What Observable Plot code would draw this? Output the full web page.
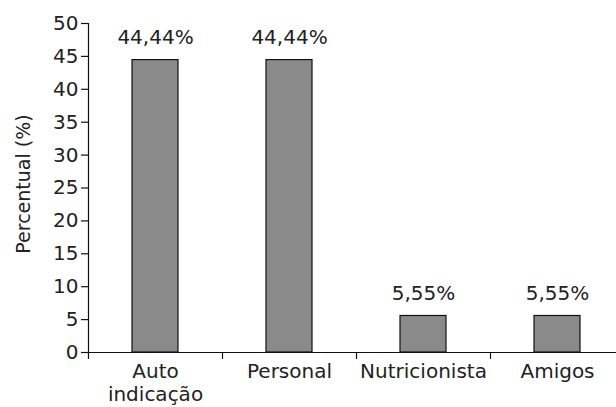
<!DOCTYPE html>
<html>
<head>
<meta charset="utf-8">
<script src="https://cdn.jsdelivr.net/npm/d3@7"></script>
<script src="https://cdn.jsdelivr.net/npm/@observablehq/plot@0.6"></script>
<style>
  html, body { margin: 0; padding: 0; background: #fff; }
  svg { display: block; }
</style>
</head>
<body>
<div id="chart"></div>
<script>
const categories = ["Auto\nindicação", "Personal", "Nutricionista", "Amigos"];
const values = [44.44, 44.44, 5.55, 5.55];
const valueLabels = ["44,44%", "44,44%", "5,55%", "5,55%"];
const yTicks = [0, 5, 10, 15, 20, 25, 30, 35, 40, 45, 50];
const yTitle = "Percentual (%)";

const data = categories.map((c, i) => ({cat: c, value: values[i], label: valueLabels[i]}));

const font = "DejaVu Sans";
const chart = Plot.plot({
  width: 616,
  height: 407,
  marginLeft: 88,
  marginRight: 0,
  marginTop: 23,
  marginBottom: 55,
  style: {fontFamily: font, fontSize: "20px", color: "#222", background: "#fff"},
  x: {domain: categories, range: [88, 624], paddingInner: 0.66, paddingOuter: 0.33, label: null},
  y: {domain: [0, 50], label: null},
  marks: [
    Plot.barY(data, {x: "cat", y: "value", fill: "#8a8a8a", stroke: "#111", strokeWidth: 1.2}),
    Plot.text(data, {x: "cat", y: "value", text: "label", dy: -22, fontSize: 20, fill: "#222"}),
    Plot.ruleY([0], {stroke: "#111", strokeWidth: 1.2}),
    Plot.frame({anchor: "left", stroke: "#111", strokeWidth: 1.2}),
    Plot.axisX(categories, {tickSize: 7, tickFormat: () => "", dx: -67, stroke: "#111", strokeWidth: 1.2, label: null}),
    Plot.axisX({tickSize: 0, tickPadding: 10, fontSize: 20, lineHeight: 1.12, label: null, fill: "#222"}),
    Plot.axisY(yTicks, {tickSize: 7, tickPadding: 3, fontSize: 20, fill: "#222", stroke: "#111", strokeWidth: 1.2, label: null}),
    Plot.text([yTitle], {frameAnchor: "left", textAnchor: "middle", rotate: -90, dx: -65, dy: -4, fontSize: 19, fill: "#222"})
  ]
});
document.getElementById("chart").appendChild(chart);
</script>
</body>
</html>
